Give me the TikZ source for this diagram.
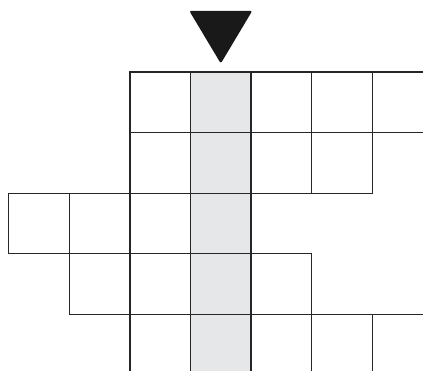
\documentclass[tikz,border=0pt]{standalone}
\usepackage{xcolor}
\usepackage{tikz}
\definecolor{lanegray}{RGB}{230,231,232}

\begin{document}
\begin{tikzpicture}[x=1.212cm,y=-1.212cm,
   cell/.style={draw=black!85,line width=0.7pt}]
  \useasboundingbox (-0.1436,-1.188) rectangle (6.837,4.934);
  \clip (-0.1436,-1.188) rectangle (6.837,4.934);
  % shaded lane under the marker
  \fill[lanegray] (3,0) rectangle (4,5);
  % grid cells, column/row
  \foreach \c/\r in {2/0,3/0,4/0,5/0,6/0,
                     2/1,3/1,4/1,5/1,
                     0/2,1/2,2/2,3/2,
                     1/3,2/3,3/3,4/3,
                     2/4,3/4,4/4,5/4,6/4}
    \draw[cell] (\c,\r) rectangle ++(1,1);
  % marker
  \fill[black!90,rounded corners=1.2pt] (2.98,-1.01) -- (4.02,-1.01) -- (3.5,-0.14) -- cycle;
\end{tikzpicture}
\end{document}
